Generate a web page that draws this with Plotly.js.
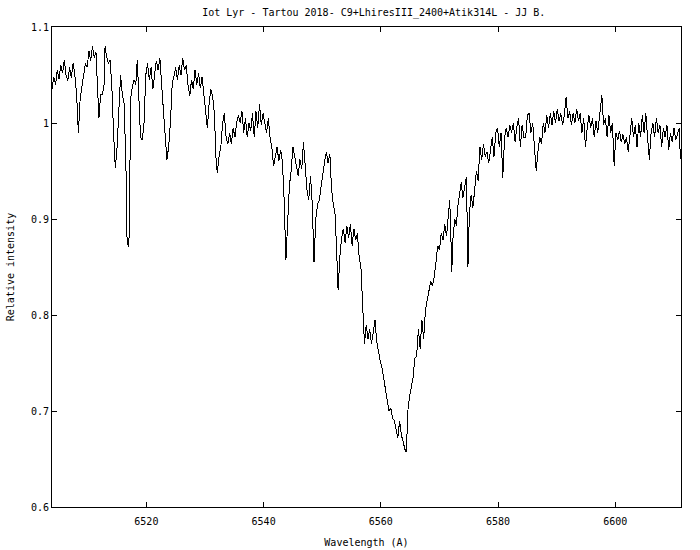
<!DOCTYPE html>
<html>
<head>
<meta charset="utf-8">
<script src="https://cdn.plot.ly/plotly-3.0.1.min.js"></script>
<style>html,body{margin:0;padding:0;background:#fff;}#chart{width:700px;height:550px;}
#chart .scatterlayer path{shape-rendering:crispEdges;}</style>
</head>
<body>
<div id="chart"></div>
<script>
// Wavelength (Angstrom) and relative intensity
const wavelength = [
6503.9,6504.2,6504.5,6504.8,6505.1,6505.4,6505.7,6506.0,6506.3,6506.6,6506.9,6507.2,6507.5,6507.8,6508.1,6508.4,6508.7,6509.0,6509.3,6509.6,6509.9,6510.2,6510.5,6510.8,6511.1,6511.4,6511.7,6511.9,6512.2,6512.5,6512.8,6512.95,6513.2,6513.5,6513.8,6514.1,6514.4,6514.7,6515.0,6515.3,6515.6,6515.9,6516.2,6516.5,6516.7,6516.9,6517.1,6517.3,6517.6,6517.9,6518.2,6518.45,6518.7,6519.0,6519.3,6519.6,6519.9,6520.2,6520.5,6520.8,6521.1,6521.4,
6521.7,6522.0,6522.3,6522.6,6522.9,6523.2,6523.5,6523.8,6524.1,6524.4,6524.7,6525.0,6525.3,6525.6,6525.9,6526.2,6526.5,6526.8,6527.1,6527.4,6527.7,6528.0,6528.3,6528.6,6528.9,6529.2,6529.5,6529.8,6530.1,6530.4,6530.7,6531.0,6531.3,6531.6,6531.9,6532.1,6532.4,6532.7,6533.0,6533.3,6533.6,6533.9,6534.2,6534.5,6534.8,6535.1,6535.4,6535.7,6536.0,6536.3,6536.6,6536.9,6537.2,6537.5,6537.8,6538.1,6538.4,6538.7,6539.0,6539.3,6539.6,6539.9,
6540.2,6540.5,6540.8,6541.1,6541.4,6541.7,6542.0,6542.3,6542.6,6542.9,6543.2,6543.5,6543.8,6544.1,6544.4,6544.7,6545.0,6545.3,6545.6,6545.9,6546.2,6546.5,6546.8,6547.1,6547.4,6547.7,6548.0,6548.3,6548.6,6548.9,6549.2,6549.5,6549.8,6550.1,6550.4,6550.7,6551.0,6551.3,6551.6,6551.9,6552.2,6552.5,6552.7,6553.0,6553.3,6553.6,6553.9,6554.2,6554.5,6554.8,6555.1,6555.4,6555.7,6556.0,6556.3,6556.6,6556.9,
6557.2,6557.5,6557.8,6558.1,6558.4,6558.7,6559.0,6559.3,6559.6,6559.9,6560.2,6560.5,6560.8,6561.1,6561.4,6561.7,6562.0,6562.3,6562.6,6562.9,6563.2,6563.5,6563.8,6564.1,6564.35,6564.6,6564.9,6565.2,6565.5,6565.8,6566.1,6566.4,6566.7,6567.0,6567.3,6567.6,6567.9,6568.2,6568.5,6568.8,6569.1,
6569.4,6569.7,6570.0,6570.3,6570.6,6570.9,6571.2,6571.5,6571.75,6571.95,6572.1,6572.3,6572.6,6572.9,6573.1,6573.4,6573.7,6574.0,6574.3,6574.6,6574.85,6575.1,6575.4,6575.7,6576.0,6576.3,6576.6,6576.9,6577.2,6577.5,6577.8,6578.1,6578.4,6578.7,6579.0,6579.3,6579.6,6579.9,6580.2,6580.5,6580.8,6581.1,6581.4,6581.7,6582.0,6582.3,6582.6,6582.9,6583.2,6583.5,6583.8,6584.1,6584.4,
6584.7,6585.0,6585.3,6585.6,6585.9,6586.2,6586.5,6586.8,6587.1,6587.4,6587.7,6588.0,6588.3,6588.6,6588.9,6589.2,6589.5,6589.8,6590.1,6590.4,6590.7,6591.0,6591.3,6591.6,6591.9,6592.2,6592.5,6592.8,6593.1,6593.4,6593.7,6594.0,6594.3,6594.6,6594.9,6595.2,6595.5,6595.8,6596.1,6596.4,6596.7,6597.0,6597.3,6597.7,6598.0,6598.3,6598.6,6598.9,6599.2,6599.5,6599.8,6600.1,6600.4,6600.7,6601.0,6601.3,6601.6,6601.9,6602.2,6602.5,6602.8,6603.1,6603.4,6603.7,6604.0,6604.3,6604.6,6604.9,6605.2,6605.5,6605.8,6606.1,6606.4,6606.7,6607.0,6607.3,6607.6,6607.9,6608.2,6608.5,6608.8,6609.1,6609.4,6609.7,6610.0,6610.3,6610.6,6610.9,6611.1
];
const intensity = [
1.035,1.048,1.040,1.055,1.046,1.060,1.052,1.066,1.050,1.044,1.058,1.047,1.062,1.050,1.030,0.990,1.025,1.040,1.050,1.062,1.058,1.075,1.065,1.080,1.068,1.074,1.040,1.005,1.030,1.030,1.040,1.080,1.070,1.062,1.066,1.040,0.990,0.953,0.975,1.010,1.050,1.030,1.020,0.960,0.880,0.871,0.885,1.025,1.038,1.045,1.040,1.066,1.030,0.985,0.982,1.000,1.050,1.062,1.045,1.058,1.035,1.050,
1.065,1.055,1.068,1.040,1.015,0.990,0.962,0.975,1.000,1.040,1.050,1.058,1.045,1.060,1.050,1.068,1.055,1.060,1.040,1.028,1.045,1.035,1.055,1.040,1.052,1.036,1.048,1.030,1.010,0.995,1.020,1.035,1.028,1.010,0.960,0.948,0.965,0.975,1.000,1.010,0.985,0.978,0.990,0.978,0.995,0.985,1.000,1.008,1.000,1.012,0.990,1.005,0.985,1.000,0.992,1.010,0.985,1.012,0.995,1.020,0.998,1.010,
1.000,0.990,1.005,0.985,0.975,0.955,0.965,0.975,0.960,0.972,0.960,0.920,0.857,0.905,0.935,0.950,0.975,0.965,0.955,0.945,0.962,0.952,0.980,0.955,0.930,0.920,0.945,0.915,0.855,0.900,0.915,0.920,0.935,0.950,0.960,0.970,0.958,0.968,0.930,0.915,0.905,0.860,0.826,0.860,0.880,0.890,0.875,0.893,0.880,0.895,0.872,0.890,0.878,0.885,0.860,0.850,0.800,
0.770,0.790,0.775,0.785,0.770,0.782,0.795,0.772,0.760,0.752,0.745,0.735,0.722,0.710,0.700,0.703,0.692,0.690,0.680,0.672,0.690,0.675,0.668,0.660,0.657,0.700,0.715,0.725,0.735,0.755,0.757,0.785,0.765,0.795,0.775,0.805,0.815,0.825,0.835,0.830,0.840,
0.855,0.872,0.868,0.885,0.878,0.895,0.882,0.900,0.920,0.880,0.845,0.880,0.900,0.893,0.912,0.925,0.938,0.922,0.935,0.944,0.850,0.905,0.925,0.912,0.930,0.950,0.940,0.975,0.962,0.978,0.965,0.970,0.958,0.975,0.985,0.965,0.990,0.995,0.975,0.990,0.943,0.985,0.995,0.985,0.998,0.990,1.000,0.980,0.996,1.005,0.975,0.998,0.985,
0.985,1.008,1.010,0.990,1.000,0.975,0.950,0.970,0.985,0.978,1.000,0.990,1.008,0.995,1.010,0.998,1.012,1.000,1.015,1.002,1.010,0.998,1.008,1.027,1.005,1.012,0.998,1.010,1.000,1.015,1.002,1.010,0.990,1.005,0.975,0.995,1.008,0.995,1.005,0.985,1.002,0.990,1.005,1.029,0.998,1.005,0.985,1.008,0.990,1.000,0.955,0.990,0.982,0.992,0.980,0.988,0.978,0.985,0.970,0.990,1.005,0.985,0.998,0.975,1.000,0.985,1.008,0.990,1.010,0.985,0.962,0.990,1.000,0.985,1.005,0.990,0.998,0.975,0.995,0.985,0.998,0.972,0.990,0.980,0.995,0.982,0.990,0.995,0.962
];
const xTicks = [6520, 6540, 6560, 6580, 6600];
const yTicks = [0.6, 0.7, 0.8, 0.9, 1.0, 1.1];
const titleText = 'Iot Lyr - Tartou 2018- C9+LhiresIII_2400+Atik314L - JJ B.';

const mono = 'DejaVu Sans Mono, monospace';
const trace = {
  x: wavelength, y: intensity, type: 'scatter', mode: 'lines',
  line: {color: '#000000', width: 1}, hoverinfo: 'skip', showlegend: false
};
const axisCommon = {
  showgrid: false, zeroline: false, showline: true, mirror: 'ticks',
  linecolor: '#000', linewidth: 1, ticks: 'inside', ticklen: 5, tickcolor: '#000',
  tickfont: {family: mono, size: 10, color: '#000'}
};
const layout = {
  width: 700, height: 550,
  margin: {l: 52, r: 19, t: 27, b: 43},
  paper_bgcolor: '#fff', plot_bgcolor: '#fff',
  title: {text: titleText, font: {family: mono, size: 10, color: '#000'}, x: 0.534, xanchor: 'center', y: 0.978, yanchor: 'middle'},
  xaxis: Object.assign({}, axisCommon, {
    range: [6503.9, 6611.2], tickvals: xTicks, ticktext: xTicks.map(String),
    ticklabelstandoff: 5,
    title: {text: 'Wavelength (A)', font: {family: mono, size: 10, color: '#000'}, standoff: 12}
  }),
  yaxis: Object.assign({}, axisCommon, {
    range: [0.6, 1.1], tickvals: yTicks, ticktext: ['0.6','0.7','0.8','0.9','1','1.1'],
    title: {text: 'Relative intensity', font: {family: mono, size: 10, color: '#000'}, standoff: 14}
  })
};
Plotly.newPlot('chart', [trace], layout, {displayModeBar: false, staticPlot: true});
</script>
</body>
</html>
